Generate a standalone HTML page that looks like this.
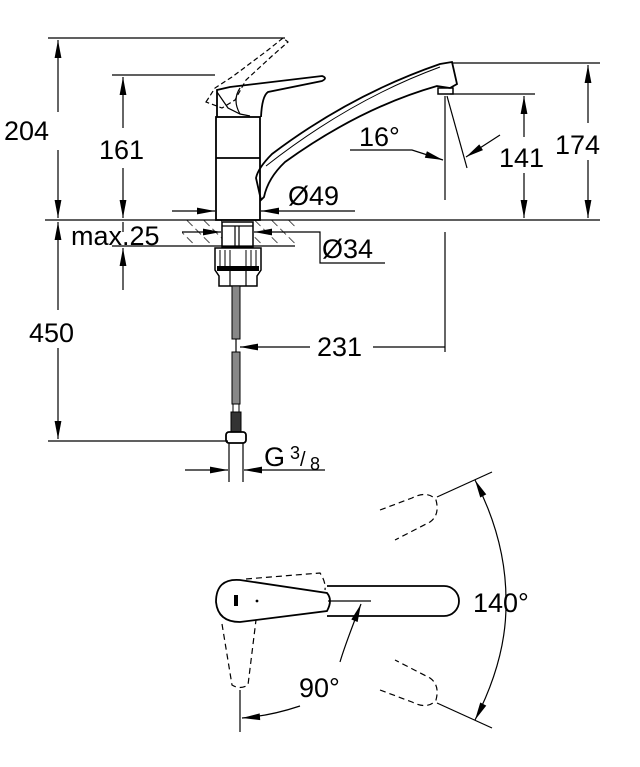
<!DOCTYPE html>
<html><head><meta charset="utf-8"><style>
html,body{margin:0;padding:0;background:#fff}
svg{display:block}
text{font-family:"Liberation Sans",Arial,sans-serif;fill:#000}
</style></head><body>
<svg width="640" height="767" viewBox="0 0 640 767" xmlns="http://www.w3.org/2000/svg">
<defs>
<marker id="a" viewBox="0 0 10 10" refX="10" refY="5" markerWidth="10" markerHeight="10" markerUnits="userSpaceOnUse" orient="auto-start-reverse" style="overflow:visible">
<path d="M-8,1.6 L10,5 L-8,8.4 Z" fill="#000"/>
</marker>
<pattern id="h" width="12" height="12" patternUnits="userSpaceOnUse" patternTransform="rotate(-45)">
<line x1="0" y1="0" x2="0" y2="12" stroke="#000" stroke-width="1.4" stroke-dasharray="8,4"/>
</pattern>
</defs>
<g stroke="#000" stroke-width="1.2" fill="none">
<line x1="48" y1="38" x2="285" y2="38"/>
<line x1="112" y1="75" x2="215" y2="75"/>
<line x1="45" y1="220" x2="600" y2="220"/>
<line x1="452" y1="63" x2="600" y2="63"/>
<line x1="450" y1="94" x2="535" y2="94"/>
<line x1="445" y1="96" x2="445" y2="200"/>
<line x1="445" y1="232" x2="445" y2="352"/>
<line x1="48" y1="441" x2="228" y2="441"/>
<line x1="112" y1="246" x2="182" y2="246"/>
<line x1="58" y1="40" x2="58" y2="112" marker-start="url(#a)"/>
<line x1="58" y1="150" x2="58" y2="218" marker-end="url(#a)"/>
<line x1="123" y1="77" x2="123" y2="128" marker-start="url(#a)"/>
<line x1="123" y1="168" x2="123" y2="218" marker-end="url(#a)"/>
<line x1="588" y1="65" x2="588" y2="123" marker-start="url(#a)"/>
<line x1="588" y1="160" x2="588" y2="218" marker-end="url(#a)"/>
<line x1="524" y1="96" x2="524" y2="137" marker-start="url(#a)"/>
<line x1="524" y1="173" x2="524" y2="218" marker-end="url(#a)"/>
<line x1="58" y1="222" x2="58" y2="310" marker-start="url(#a)"/>
<line x1="58" y1="348" x2="58" y2="439" marker-end="url(#a)"/>
<line x1="123" y1="290" x2="123" y2="248" marker-end="url(#a)"/>
<line x1="123" y1="232" x2="123" y2="222" />
<polyline points="350,150 412,150 443,160" marker-end="url(#a)"/>
<line x1="447" y1="96" x2="467" y2="168"/>
<line x1="500" y1="135" x2="466" y2="157" marker-end="url(#a)"/>
<line x1="172" y1="211" x2="215" y2="211" marker-end="url(#a)"/>
<line x1="355" y1="211" x2="261" y2="211" marker-end="url(#a)"/>
<line x1="182" y1="232" x2="221" y2="232" marker-end="url(#a)"/>
<polyline points="385,263 320,263 320,232 254,232" marker-end="url(#a)"/>
<line x1="310" y1="347" x2="240" y2="347" marker-end="url(#a)"/>
<line x1="373" y1="347" x2="445" y2="347"/>
<line x1="185" y1="470" x2="228" y2="470" marker-end="url(#a)"/>
<line x1="325" y1="470" x2="244" y2="470" marker-end="url(#a)"/>
<rect x="182" y="220" width="40" height="26" fill="url(#h)" stroke="none"/>
<rect x="254" y="220" width="41" height="26" fill="url(#h)" stroke="none"/>
<line x1="182" y1="246" x2="295" y2="246"/>
<rect x="216" y="117" width="44" height="103" stroke-width="1.8"/>
<line x1="216" y1="158" x2="260" y2="158" stroke-width="1.8"/>
<path d="M217,117 L217,90 L230,87 L322,76 Q328,78 322,81 L268,92 Q262,96 261,117" stroke-width="1.8"/>
<path d="M217,92 L228,108 L240,114 L250,116" stroke-width="1.2"/>
<path d="M240,88 Q232,100 240,114" stroke-width="1.2"/>
<g stroke-dasharray="5,3">
<path d="M206,102 L215,88 L232,77 L268,50 L283,38 L288,42 L272,56 L246,80 L235,100 L222,108 Z"/>
</g>
<path d="M261,200 L256,178 Q258,168 272,154 Q350,95 440,64 L452,62 L457,84 L450,88 L437,86 Q360,108 285,162 Q268,178 264,197 Z" stroke-width="1.8"/>
<path d="M266,166 Q350,100 440,67" stroke-width="1"/>
<rect x="438" y="88" width="15" height="6" stroke-width="1.5"/>
<rect x="222" y="222" width="31" height="25" stroke-width="1.5"/>
<line x1="222" y1="226" x2="253" y2="226"/>
<line x1="235" y1="226" x2="235" y2="246"/>
<line x1="239" y1="226" x2="239" y2="246"/>
<path d="M215,248 L215,270 L219,276 L219,286 L257,286 L257,276 L261,270 L261,248 Z" stroke-width="1.5"/>
<g stroke-width="1">
<line x1="220" y1="250" x2="220" y2="266"/><line x1="225" y1="250" x2="225" y2="266"/><line x1="230" y1="250" x2="230" y2="266"/><line x1="246" y1="250" x2="246" y2="266"/><line x1="251" y1="250" x2="251" y2="266"/><line x1="256" y1="250" x2="256" y2="266"/>
</g>
<rect x="217" y="266" width="42" height="5" fill="#000" stroke="none"/>
<line x1="230" y1="271" x2="230" y2="286"/><line x1="246" y1="271" x2="246" y2="286"/>
<rect x="232" y="286" width="8" height="53" fill="#888" stroke-width="1"/>
<line x1="236" y1="339" x2="236" y2="352"/>
<rect x="232" y="352" width="8" height="52" fill="#888" stroke-width="1"/>
<rect x="233" y="404" width="6" height="8" stroke-width="1"/>
<rect x="231" y="412" width="10" height="20" fill="#333" stroke-width="1"/>
<rect x="226" y="432" width="20" height="11" rx="3" stroke-width="1.8"/>
<line x1="229" y1="443" x2="229" y2="482"/>
<line x1="243" y1="443" x2="243" y2="482"/>
<path d="M327,586 L444,586 A15,15 0 0 1 444,616 L327,616" stroke-width="1.8"/>
<path d="M327,593 Q333,600 327,611 L240,622 Q218,622 216,602 Q216,578 240,580 Z" stroke-width="1.8" fill="#fff"/>
<rect x="234" y="595" width="4" height="11" fill="#000" stroke="none"/>
<circle cx="257" cy="601" r="0.8" fill="#000"/>
<line x1="328" y1="601" x2="371" y2="601"/>
<g stroke-dasharray="6,4">
<path d="M246,579 L320,573 Q326,582 325,590"/>
<path d="M222,624 L232,685 Q240,690 248,685 L256,620"/>
<path d="M380,510 L412,498 Q428,490 436,500 Q440,515 430,522 L395,540"/>
<path d="M380,690 L412,702 Q428,710 436,700 Q440,685 430,678 L395,660"/>
</g>
<line x1="437" y1="497" x2="492" y2="472"/>
<line x1="437" y1="703" x2="492" y2="728"/>
<line x1="240" y1="690" x2="240" y2="732"/>
<path d="M361,604 Q345,645 340,662" marker-start="url(#a)"/>
<path d="M300,706 Q270,716 242,718" marker-end="url(#a)"/>
<path d="M475,480 Q506,540 506,600" marker-start="url(#a)"/>
<path d="M506,605 Q506,660 475,720" marker-end="url(#a)"/>
</g>
<g font-size="27">
<text x="4" y="140">204</text>
<text x="99" y="159">161</text>
<text x="555" y="154">174</text>
<text x="499" y="167">141</text>
<text x="29" y="342">450</text>
<text x="359" y="146">16°</text>
<text x="288" y="205">Ø49</text>
<text x="322" y="258">Ø34</text>
<text x="71" y="245">max.25</text>
<text x="317" y="356">231</text>
<text x="264" y="466">G</text>
<text x="290" y="459" font-size="18">3</text>
<text x="300" y="466" font-size="20">/</text>
<text x="310" y="470" font-size="18">8</text>
<text x="473" y="612">140°</text>
<text x="299" y="697">90°</text>
</g>
</svg>
</body></html>
